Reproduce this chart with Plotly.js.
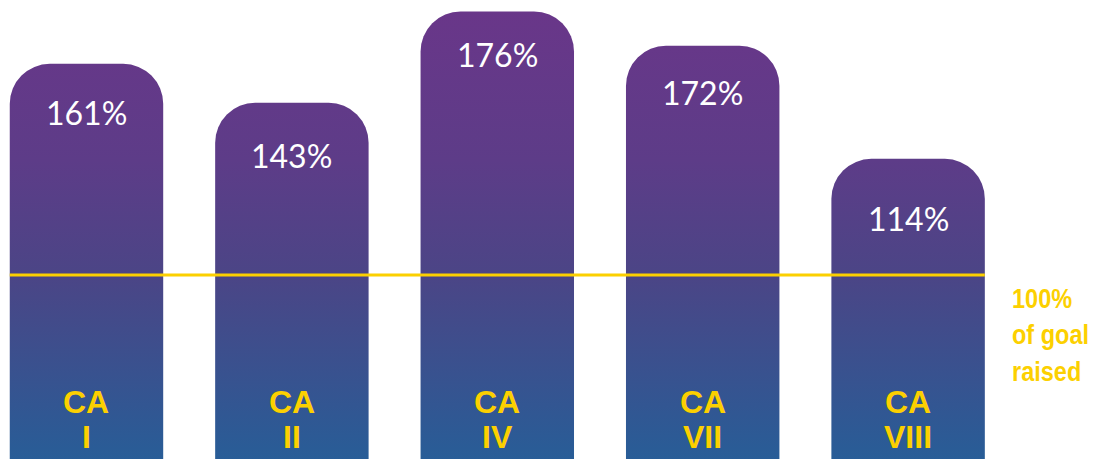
<!DOCTYPE html>
<html>
<head>
<meta charset="utf-8">
<script src="https://cdn.plot.ly/plotly-3.0.1.min.js"></script>
<style>
  html, body { margin: 0; padding: 0; background: #ffffff; }
  #chart { width: 1094px; height: 459px; }
</style>
</head>
<body>
<div id="chart"></div>
<script>
// ---- data ----
const categories = ["CA I", "CA II", "CA IV", "CA VII", "CA VIII"];
const goalLabels = ["161%", "143%", "176%", "172%", "114%"];      // printed values
const barHeights = [160.9, 149.7, 176.0, 166.1, 133.5];           // drawn bar tops (axis %)
const goalLevel = 100;                                            // 100% of goal line
const goalNote = ["100%", "of goal", "raised"];

// ---- styling ----
const YELLOW = "#fcd000";
const BAR_WIDTH = 0.747;
const Y_RANGE = [46.93, 179.32];
const PLOT_H = 459;
const PX_PER_UNIT = PLOT_H / (Y_RANGE[1] - Y_RANGE[0]);
const xIdx = categories.map((_, i) => i);

const valueFont = { family: "Lato, 'Open Sans', sans-serif", size: 32, color: "#ffffff" };
const catFont = { family: "'Liberation Sans', Arial, sans-serif", size: 32, color: YELLOW, weight: 700 };
const noteFont = { family: "'Liberation Sans', Arial, sans-serif", size: 28, color: YELLOW, weight: 700 };

const annotations = [];
xIdx.forEach((i) => {
  // label sits a bit lower in shorter bars
  const hPx = (barHeights[i] - goalLevel) * PX_PER_UNIT;
  annotations.push({
    x: i, y: barHeights[i], xref: "x", yref: "y",
    text: goalLabels[i], showarrow: false, yanchor: "middle", yshift: -(72 - 0.11 * hPx),
    font: valueFont
  });
  const parts = categories[i].split(" ");
  annotations.push({
    x: i, y: 0.125, xref: "x", yref: "paper",
    text: "<b>" + parts[0] + "</b>", showarrow: false, yanchor: "middle", font: catFont
  });
  annotations.push({
    x: i, y: 0.049, xref: "x", yref: "paper",
    text: "<b>" + parts[1] + "</b>", showarrow: false, yanchor: "middle", font: catFont
  });
});
const noteIndex = annotations.length;
annotations.push({
  x: 1010 / 1094, y: (459 - 335) / 459, xref: "paper", yref: "paper",
  text: goalNote.map(t => "<b>" + t + "</b>").join("<br>"),
  showarrow: false, xanchor: "left", yanchor: "middle", align: "left", font: noteFont
});

const trace = {
  type: "bar",
  x: xIdx,
  y: barHeights,
  width: BAR_WIDTH,
  marker: { color: "#55418a", cornerradius: 40, line: { width: 0 } },
  hoverinfo: "skip"
};

const layout = {
  width: 1094, height: 459,
  margin: { l: 0, r: 0, t: 0, b: 0, pad: 0 },
  paper_bgcolor: "#ffffff", plot_bgcolor: "#ffffff",
  showlegend: false,
  xaxis: { range: [-0.421, 4.905], visible: false, fixedrange: true },
  yaxis: { range: Y_RANGE, visible: false, fixedrange: true },
  shapes: [{
    type: "line", xref: "x", yref: "y", layer: "above",
    x0: -BAR_WIDTH / 2, x1: (categories.length - 1) + BAR_WIDTH / 2,
    y0: goalLevel, y1: goalLevel,
    line: { color: YELLOW, width: 3 }
  }],
  annotations: annotations
};

Plotly.newPlot("chart", [trace], layout, { displayModeBar: false, staticPlot: true }).then(() => {
  const ns = "http://www.w3.org/2000/svg";
  const svg = document.querySelector("#chart .main-svg");
  let defs = svg.querySelector("defs");
  if (!defs) { defs = document.createElementNS(ns, "defs"); svg.insertBefore(defs, svg.firstChild); }
  const grad = document.createElementNS(ns, "linearGradient");
  grad.setAttribute("id", "barGrad");
  grad.setAttribute("gradientUnits", "userSpaceOnUse");
  grad.setAttribute("x1", "0"); grad.setAttribute("y1", "0");
  grad.setAttribute("x2", "0"); grad.setAttribute("y2", "459");
  [["0", "#6a3689"], ["0.35", "#5d3c88"], ["0.6", "#4b4586"], ["1", "#285d97"]].forEach(([o, c]) => {
    const s = document.createElementNS(ns, "stop");
    s.setAttribute("offset", o); s.setAttribute("stop-color", c);
    grad.appendChild(s);
  });
  defs.appendChild(grad);
  document.querySelectorAll("#chart .barlayer .point path").forEach(p => {
    p.style.fill = "url(#barGrad)";
  });
  // condense the side note horizontally (narrow bold look), keeping its left edge
  const noteText = document.querySelector('#chart .annotation[data-index="' + noteIndex + '"] text.annotation-text');
  if (noteText) {
    const bb = noteText.getBBox();
    const s = 0.84;
    noteText.setAttribute("transform", "translate(" + (bb.x * (1 - s)) + ",0) scale(" + s + ",1)");
  }
});
</script>
</body>
</html>
